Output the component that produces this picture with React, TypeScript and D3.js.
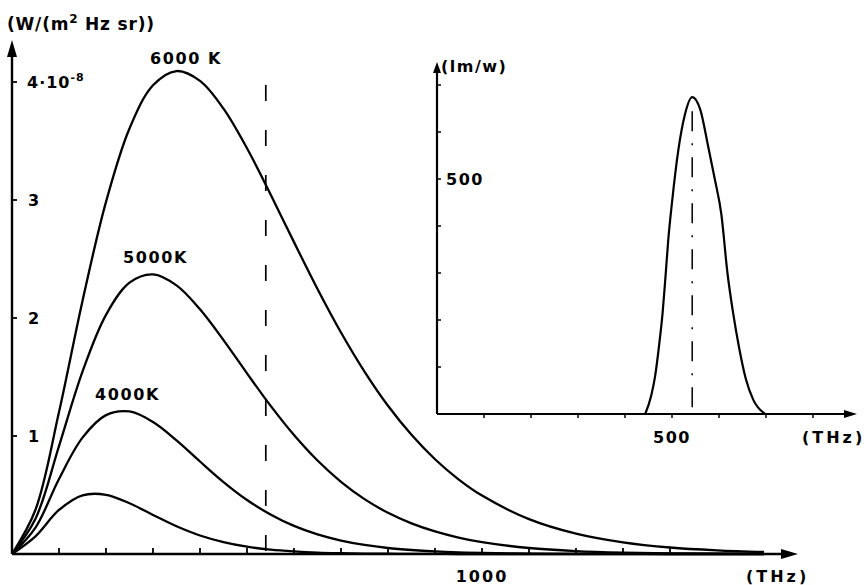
import React from 'react';
import * as d3 from 'd3';

// black body spectral radiance, units of 1e-8 W/(m² Hz sr)
const freqTHz = [0, 50, 100, 150, 200, 250, 300, 350, 400, 450, 500, 550, 600, 650, 700, 750, 800, 850, 900, 950, 1000, 1100, 1200, 1300, 1400, 1500, 1600];
const rad6000 = [0, 0.375, 1.203, 2.145, 2.984, 3.606, 3.972, 4.093, 4.01, 3.774, 3.438, 3.049, 2.643, 2.246, 1.877, 1.546, 1.256, 1.01, 0.803, 0.633, 0.495, 0.296, 0.173, 0.099, 0.055, 0.031, 0.017];
const rad5000 = [0, 0.299, 0.915, 1.546, 2.027, 2.3, 2.37, 2.277, 2.074, 1.813, 1.531, 1.257, 1.008, 0.792, 0.612, 0.465, 0.349, 0.259, 0.191, 0.139, 0.1, 0.051, 0.025, 0.012, 0.006, 0.003, 0.001];
const rad4000 = [0, 0.224, 0.636, 0.986, 1.177, 1.208, 1.119, 0.963, 0.784, 0.61, 0.458, 0.335, 0.238, 0.166, 0.114, 0.077, 0.051, 0.034, 0.022, 0.014, 0.009, 0.004, 0.001, 0.001, 0, 0, 0];
const rad3000 = [0, 0.15, 0.373, 0.497, 0.502, 0.43, 0.331, 0.235, 0.157, 0.101, 0.062, 0.037, 0.022, 0.012, 0.007, 0.004, 0.002, 0.001, 0.001, 0, 0, 0, 0, 0, 0, 0, 0];

const curveLabels = ['6000 K', '5000K', '4000K', ''];
const labelAt = [[150, 64], [123, 263], [95, 400], [0, 0]]; // left/baseline in px

const mainXTicks = [100, 200, 300, 400, 500, 600, 700, 800, 900, 1000, 1100, 1200, 1300, 1400];
const mainYTicks = [1, 2, 3, 4];
const markerFreq = 540; // dashed line, 555 nm

// luminous efficacy (lm/W) of the inset
const effFreq = [443, 456, 464, 473, 480, 486, 492, 500, 514, 527, 543, 560, 577, 591, 605, 618, 630, 643, 657, 673, 698];
const efficacy = [0, 40, 80, 150, 215, 290, 370, 450, 565, 635, 674, 648, 569, 500, 425, 300, 215, 140, 75, 30, 0];
const insetXTicks = [100, 200, 300, 400, 500, 600, 700, 800];
const insetYTicks = [100, 200, 300, 400, 500, 600, 700];

const font = "'DejaVu Sans', sans-serif";

export default function App() {
  // main plot
  const x = d3.scaleLinear().domain([0, 1000]).range([12, 482]);
  const y = d3.scaleLinear().domain([0, 4]).range([554, 82]);
  const x0 = x(0), y0 = y(0);

  const line = d3.line<[number, number]>()
    .x(d => x(d[0]))
    .y(d => Math.min(y0, y(d[1])))
    .curve(d3.curveCatmullRom.alpha(0.5));

  const series = [rad6000, rad5000, rad4000, rad3000];

  // inset
  const xi = d3.scaleLinear().domain([0, 500]).range([437, 672]);
  const yi = d3.scaleLinear().domain([0, 500]).range([414, 179]);
  const xi0 = xi(0), yi0 = yi(0);
  const insetLine = d3.line<[number, number]>()
    .x(d => xi(d[0]))
    .y(d => yi(d[1]))
    .curve(d3.curveMonotoneX);
  const effPts: [number, number][] = effFreq.map((f, i) => [f, efficacy[i]]);
  const peakIdx = d3.maxIndex(efficacy);

  const txt = { fontFamily: font, fontWeight: 'bold' as const, fill: '#000' };

  return (
    <svg width={867} height={585} style={{ position: 'absolute', left: 0, top: 0, background: '#fff' }}>
      {/* main axes */}
      <line x1={x0} y1={y0} x2={x0} y2={52} stroke="#000" strokeWidth={2.4} />
      <path d={`M${x0},40 L${x0 - 5},57 L${x0 + 5},57 Z`} fill="#000" />
      <line x1={x0} y1={y0} x2={784} y2={y0} stroke="#000" strokeWidth={2.4} />
      <path d={`M798,${y0} L781,${y0 - 5} L781,${y0 + 5} Z`} fill="#000" />

      {mainYTicks.map(t => (
        <line key={'my' + t} x1={x0} x2={x0 + 5} y1={y(t)} y2={y(t)} stroke="#000" strokeWidth={1.8} />
      ))}
      {mainXTicks.map(t => (
        <line key={'mx' + t} x1={x(t)} x2={x(t)} y1={y0} y2={y0 - 6} stroke="#000" strokeWidth={1.8} />
      ))}

      <text x={27} y={y(4) + 6} fontSize={16} {...txt} letterSpacing={1}>
        4·10<tspan dy={-7} fontSize={11}>-8</tspan>
      </text>
      {mainYTicks.filter(t => t < 4).map(t => (
        <text key={'ml' + t} x={28} y={y(t) + 6} fontSize={16} {...txt}>{t}</text>
      ))}
      <text x={x(1000)} y={582} fontSize={16} textAnchor="middle" letterSpacing={2} {...txt}>1000</text>
      <text x={746} y={582} fontSize={16} letterSpacing={3} {...txt}>(THz)</text>
      <text x={7} y={30} fontSize={17} letterSpacing={0.8} {...txt}>
        (W/(m<tspan dy={-7} fontSize={12}>2</tspan><tspan dy={7}> Hz sr))</tspan>
      </text>

      {/* dashed marker */}
      <line x1={x(markerFreq)} x2={x(markerFreq)} y1={85} y2={y0} stroke="#000" strokeWidth={1.7} strokeDasharray="16,29" />

      {series.map((s, i) => (
        <path key={'c' + i}
          d={line(freqTHz.map((f, j) => [f, s[j]] as [number, number])) || ''}
          fill="none" stroke="#000" strokeWidth={2.3} />
      ))}
      {curveLabels.map((l, i) => l && (
        <text key={'lab' + i} x={labelAt[i][0]} y={labelAt[i][1]} fontSize={16} letterSpacing={1.6} {...txt}>{l}</text>
      ))}

      {/* inset */}
      <line x1={xi0} y1={yi0} x2={xi0} y2={70} stroke="#000" strokeWidth={2.2} />
      <path d={`M${xi0},62 L${xi0 - 4},73 L${xi0 + 4},73 Z`} fill="#000" />
      <line x1={xi0} y1={yi0} x2={846} y2={yi0} stroke="#000" strokeWidth={2.2} />
      <path d={`M857,${yi0} L844,${yi0 - 4} L844,${yi0 + 4} Z`} fill="#000" />
      {insetYTicks.map(t => (
        <line key={'iy' + t} x1={xi0} x2={xi0 + 4} y1={yi(t)} y2={yi(t)} stroke="#000" strokeWidth={1.5} />
      ))}
      {insetXTicks.map(t => (
        <line key={'ix' + t} x1={xi(t)} x2={xi(t)} y1={yi0} y2={yi0 + 4} stroke="#000" strokeWidth={1.5} />
      ))}
      <text x={xi0 + 4} y={72} fontSize={16} letterSpacing={1.5} {...txt}>(lm/w)</text>
      <text x={xi0 + 9} y={yi(500) + 6} fontSize={16} letterSpacing={1.5} {...txt}>500</text>
      <text x={xi(500)} y={443} fontSize={16} textAnchor="middle" letterSpacing={1.5} {...txt}>500</text>
      <text x={802} y={443} fontSize={16} letterSpacing={3} {...txt}>(THz)</text>

      <line x1={xi(effFreq[peakIdx])} x2={xi(effFreq[peakIdx])} y1={yi(efficacy[peakIdx]) + 14} y2={yi0}
        stroke="#000" strokeWidth={1.5} strokeDasharray="20,12,2,12" />
      <path d={insetLine(effPts) || ''} fill="none" stroke="#000" strokeWidth={2.2} />
    </svg>
  );
}
